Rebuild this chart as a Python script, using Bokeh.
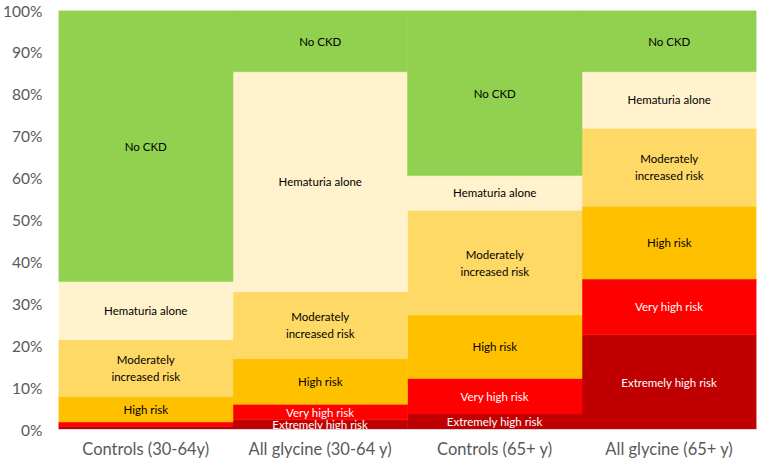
from bokeh.plotting import figure
from bokeh.models import ColumnDataSource, FactorRange, PrintfTickFormatter, FixedTicker, Range1d
from bokeh.core.properties import value
from bokeh.embed import file_html
from bokeh.resources import INLINE

categories = ["Controls (30-64y)", "All glycine (30-64 y)", "Controls (65+ y)", "All glycine (65+ y)"]
segments = ["Extremely high risk", "Very high risk", "High risk", "Moderately\nincreased risk", "Hematuria alone", "No CKD"]
extremely_high = [0.8, 2.3, 3.7, 22.6]
very_high = [1.0, 3.7, 8.5, 13.3]
high = [6.1, 10.9, 15.1, 17.4]
moderately = [13.5, 16.0, 25.0, 18.6]
hematuria = [13.9, 52.5, 8.3, 13.5]
no_ckd = [64.7, 14.6, 39.4, 14.6]
y_ticks = [0, 10, 20, 30, 40, 50, 60, 70, 80, 90, 100]

series = [extremely_high, very_high, high, moderately, hematuria, no_ckd]
keys = ["ext", "vh", "high", "mod", "hem", "nockd"]
colors = ["#C00000", "#FF0000", "#FFC000", "#FFD966", "#FFF2CC", "#92D050"]
text_colors = ["#FFFFFF", "#FFFFFF", "#000000", "#000000", "#000000", "#000000"]

data = {"x": categories}
for k, s in zip(keys, series):
    data[k] = s
src = ColumnDataSource(data)

p = figure(width=759, height=465, x_range=FactorRange(*categories, range_padding=0),
           y_range=Range1d(0, 100), output_backend="svg", toolbar_location=None,
           min_border_left=57, min_border_right=3, min_border_top=10, min_border_bottom=36)

p.vbar_stack(keys, x="x", width=1.0, source=src, fill_color=colors, line_color=colors, line_width=0.5)

# labels at segment midpoints
lx, ly, lt, lc = [], [], [], []
for ci, cat in enumerate(categories):
    base = 0.0
    for si, s in enumerate(series):
        v = s[ci]
        if v >= 2.0:
            lx.append(cat)
            ly.append(base + v / 2)
            lt.append(segments[si])
            lc.append(text_colors[si])
        base += v
lsrc = ColumnDataSource(dict(x=lx, y=ly, text=lt, color=lc))
p.text(x="x", y="y", text="text", text_color="color", source=lsrc, text_align="center",
       text_baseline="middle", text_font=value("Lato"), text_font_size="11.5px", text_line_height=1.3)

p.xgrid.visible = False
p.ygrid.visible = False
p.outline_line_color = None

p.yaxis.ticker = FixedTicker(ticks=y_ticks)
p.yaxis.formatter = PrintfTickFormatter(format="%d%%")
p.yaxis.axis_line_color = None
p.yaxis.major_tick_line_color = None
p.yaxis.minor_tick_line_color = None
p.yaxis.major_tick_out = 0
p.yaxis.minor_tick_out = 0
p.yaxis.major_label_text_font = "Lato"
p.yaxis.major_label_text_font_size = "15.5px"
p.yaxis.major_label_text_color = "#595959"
p.yaxis.major_label_standoff = 16

p.xaxis.axis_line_color = "#D9D9D9"
p.xaxis.major_tick_line_color = None
p.xaxis.minor_tick_line_color = None
p.xaxis.major_tick_out = 0
p.xaxis.minor_tick_out = 0
p.xaxis.major_label_text_font = "Lato"
p.xaxis.major_label_text_font_size = "16.5px"
p.xaxis.major_label_text_color = "#595959"
p.xaxis.major_label_standoff = 9

open("out.html", "w").write(file_html(p, INLINE))
